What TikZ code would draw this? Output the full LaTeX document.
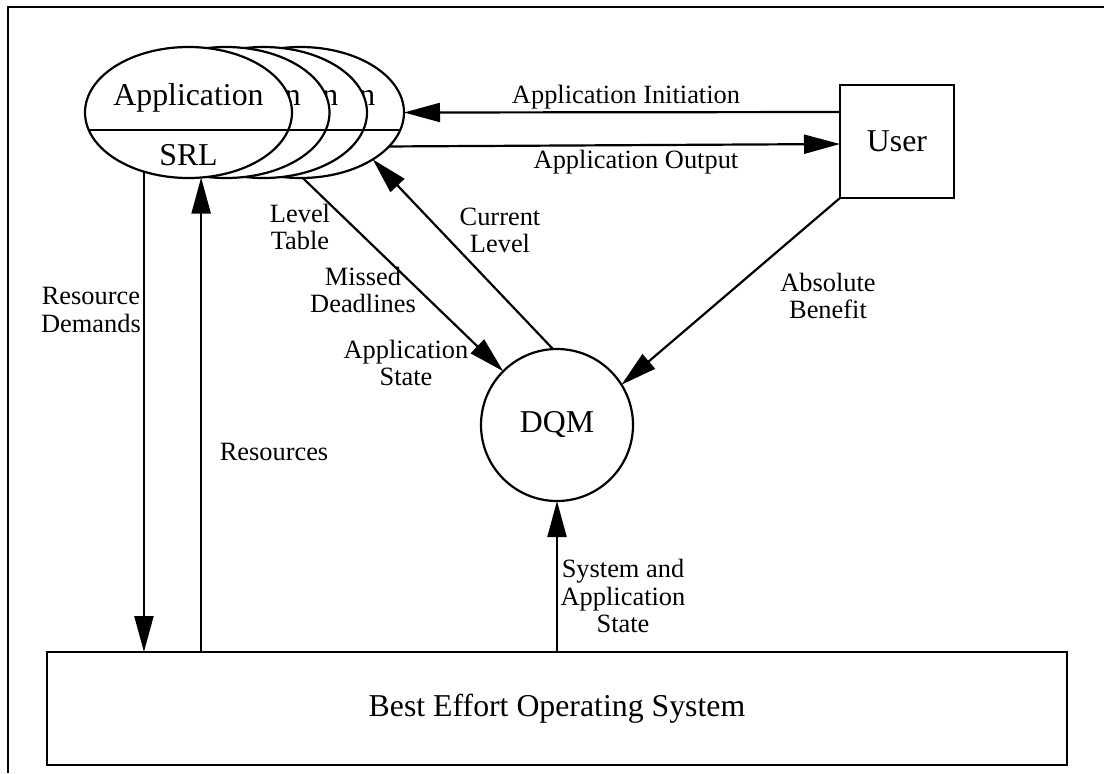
\documentclass[tikz,border=0pt]{standalone}
\usepackage{fontspec}
\setmainfont{Liberation Serif}
\usetikzlibrary{shapes.geometric,arrows.meta}
\begin{document}
\begin{tikzpicture}[x=0.5pt,y=-0.5pt,
  ln/.style={line width=1.1pt},
  arr/.style={ln,-{Triangle[length=18pt,width=9.5pt]}},
  appell/.style={ellipse,draw,ln,fill=white,minimum width=103.5pt,minimum height=65.5pt,inner sep=0pt,outer sep=0pt},
  boxnode/.style={rectangle,draw,ln,fill=white,inner sep=0pt,outer sep=0pt},
  big/.style={font=\fontsize{15.9}{19}\selectfont,inner sep=0pt},
  lbl/.style={font=\fontsize{13.2}{13.6}\selectfont,align=center,inner sep=0pt}]
\useasboundingbox (0,0) rectangle (1104,773);
% frame
\draw[line width=1.4pt] (1104,7) -- (8,7) -- (8,773);

% stacked application ellipses (back to front); only the last letter of the
% hidden titles shows
\node[appell] (app4) at (300.5,112.5) {};
\draw[ln] (app4.190.6) -- (app4.-10.6);
\node[big,anchor=base east] (app4t) at (375.6,105) {n};

\node[appell] (app3) at (263.5,112.5) {};
\draw[ln] (app3.190.6) -- (app3.-10.6);
\node[big,anchor=base east] (app3t) at (338.6,105) {n};

\node[appell] (app2) at (226,112.5) {};
\draw[ln] (app2.190.6) -- (app2.-10.6);
\node[big,anchor=base east] (app2t) at (301.1,105) {n};

\node[appell] (app1) at (188.5,112.5) {};
\draw[ln] (app1.190.6) -- (app1.-10.6);
\node[big,anchor=base] (app1t) at (188.5,105) {Application};
\node[big,anchor=base] (srl) at (188.5,165) {SRL};

% other nodes
\node[boxnode,minimum width=57pt,minimum height=56.5pt,big] (user) at (897,141.5) {User};
\node[circle,draw,ln,fill=white,minimum size=76pt,inner sep=0pt,outer sep=0pt,big] (dqm) at (557,425) {DQM};
\node[boxnode,minimum width=510pt,minimum height=56.5pt,big] (os) at (557,708.5) {Best Effort Operating System};

% connectors
\draw[arr] ([yshift=14.75pt]user.west) -- (app4.east);
\draw[arr] (app4.-21) -- ([yshift=-1.25pt]user.west);
\draw[arr] (dqm.93) -- (app4.-33);
\draw[arr] (app4.-88) -- (dqm.135);
\draw[arr] (user.south west) -- (dqm.32);
\draw[arr] (app1.233.8) -- (app1.233.8 |- os.north);
\draw[arr] (app1.-79 |- os.north) -- (app1.-79);
\draw[arr] (dqm.south |- os.north) -- (dqm.south);

% labels
\node[lbl] (l1) at (626,97) {Application Initiation};
\node[lbl] (l2) at (636,162) {Application Output};
\node[lbl] (l3) at (300,227) {Level\\Table};
\node[lbl] (l4) at (363,290) {Missed\\Deadlines};
\node[lbl] (l5) at (406,363) {Application\\State};
\node[lbl] (l6) at (500,230) {Current\\Level};
\node[lbl] (l7) at (828,296) {Absolute\\Benefit};
\node[lbl] (l8) at (91,310) {Resource\\Demands};
\node[lbl] (l9) at (274,452) {Resources};
\node[lbl] (l10) at (623,596) {System and\\Application\\State};
\end{tikzpicture}
\end{document}
